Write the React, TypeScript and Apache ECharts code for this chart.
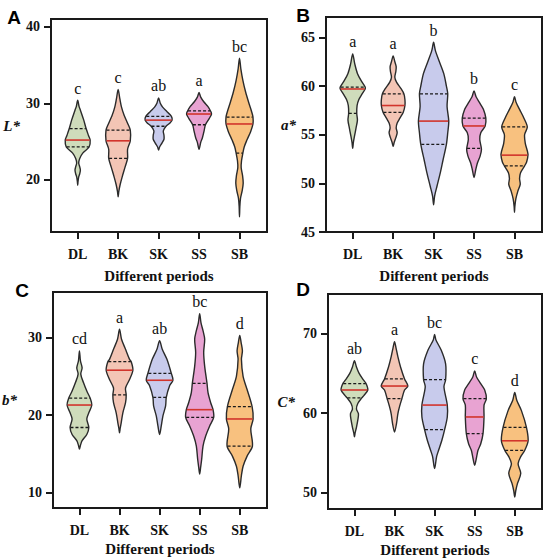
import React, { useEffect, useRef } from "react";
import * as echarts from "echarts";

// ---------- DATA ----------
const categories = ["DL", "BK", "SK", "SS", "SB"];
const violinColors = ["#cfdcbb", "#f3c5b5", "#c8cbec", "#e8a3d2", "#f8c17f"];

// Violin outlines: [value, half-width density] from top tip to bottom tip
const lProfiles: number[][][] = [
  [[30.4,0],[29.6,4],[29.1,8],[27.8,18],[26.7,25],[25.8,32],[25.2,37],[24.3,34],[23.5,15],[22.8,6],[22.2,3],[21.7,6],[21.3,8],[20.8,6],[20.4,3],[19.8,1],[19.3,0]],
  [[31.8,0],[30.6,5],[29.5,10],[28.4,18],[27.4,28],[26.5,36],[25.1,36],[24.0,28],[22.8,28],[21.6,20],[20.4,12],[19.4,6],[18.5,2],[17.8,0]],
  [[30.7,0],[30.0,5],[29.5,12],[28.9,25],[28.3,38],[27.8,40],[27.4,33],[27.0,22],[26.4,14],[25.8,16],[25.3,16],[24.8,10],[24.3,3],[23.9,0]],
  [[31.4,0],[30.8,5],[30.2,14],[29.6,26],[29.0,34],[28.6,37],[28.0,30],[27.2,19],[26.4,15],[25.5,10],[24.9,5],[24.0,0]],
  [[35.9,0],[34.5,4],[33.0,10],[31.5,18],[30.0,28],[28.9,36],[28.2,40],[27.3,40],[26.3,33],[25.2,22],[24.3,14],[23.5,10],[22.5,6],[21.6,5],[20.6,9],[19.6,11],[18.6,8],[17.6,3],[16.5,1],[15.2,0]],
];
const aProfiles: number[][][] = [
  [[63.3,0],[62.3,6],[61.3,14],[60.5,26],[59.9,37],[59.7,37],[59.2,28],[58.6,18],[58.0,13],[57.2,12],[56.5,14],[55.7,10],[54.8,5],[54.2,2],[53.6,0]],
  [[63.1,0],[62.5,5],[62.0,9],[61.5,8],[60.9,5],[60.4,10],[59.7,24],[59.2,32],[58.6,35],[58.0,35],[57.3,30],[56.7,20],[56.2,12],[55.7,9],[55.2,12],[54.7,8],[54.2,3],[53.8,0]],
  [[64.5,0],[63.7,5],[62.7,15],[61.3,30],[60.0,38],[59.2,42],[57.9,40],[56.4,45],[55.2,42],[54.0,38],[52.4,28],[51.1,20],[49.7,10],[48.7,3],[47.8,0]],
  [[59.5,0],[58.9,6],[58.2,18],[57.6,28],[56.7,35],[55.9,33],[55.2,20],[54.5,17],[53.5,22],[52.8,18],[52.1,10],[51.4,5],[50.6,0]],
  [[58.9,0],[58.3,5],[57.6,15],[56.7,28],[55.8,38],[55.0,30],[54.1,32],[53.0,40],[52.2,36],[51.8,30],[51.1,18],[50.5,15],[49.9,17],[49.2,10],[48.4,4],[47.6,1],[47.0,0]],
];
const bProfiles: number[][][] = [
  [[28.3,0],[27.0,3],[26.1,8],[25.3,4],[24.2,12],[23.1,22],[22.2,32],[21.3,37],[20.3,28],[19.5,22],[18.4,28],[17.5,22],[16.7,8],[16.1,3],[15.6,0]],
  [[31.1,0],[29.8,6],[28.5,18],[27.2,30],[26.9,35],[25.8,40],[24.6,30],[23.5,18],[22.6,20],[21.6,18],[20.3,10],[19.0,5],[18.3,2],[17.7,0]],
  [[29.6,0],[28.5,8],[27.2,22],[25.4,35],[24.5,40],[23.8,30],[22.3,20],[21.2,18],[19.9,10],[18.6,5],[17.5,0]],
  [[33.1,0],[31.9,4],[30.9,10],[29.8,15],[28.1,12],[26.3,15],[24.1,22],[22.9,25],[21.6,33],[20.7,40],[19.7,42],[18.6,30],[17.3,18],[16.0,10],[14.3,6],[13.3,3],[12.4,0]],
  [[30.3,0],[29.4,4],[28.3,8],[27.2,5],[25.0,10],[23.3,22],[21.1,37],[19.5,40],[18.2,33],[16.0,38],[14.7,22],[13.4,10],[12.2,5],[10.6,0]],
];
const cProfiles: number[][][] = [
  [[66.6,0],[65.8,6],[65.0,14],[64.1,28],[63.7,35],[62.9,40],[62.2,28],[61.9,22],[61.2,10],[60.5,6],[59.9,12],[59.1,10],[58.2,6],[57.5,2],[57.0,0]],
  [[69.0,0],[68.3,4],[67.1,10],[65.8,18],[64.3,30],[63.4,40],[62.9,30],[61.8,22],[60.8,15],[59.9,10],[58.7,6],[57.6,0]],
  [[69.9,0],[69.2,4],[67.9,20],[66.2,33],[64.2,33],[63.3,28],[61.0,38],[59.5,38],[57.9,30],[56.6,22],[55.3,12],[54.5,6],[53.0,0]],
  [[65.3,0],[64.5,6],[63.7,18],[62.9,30],[61.8,35],[61.0,28],[59.5,28],[57.4,25],[56.1,18],[55.3,10],[54.5,6],[53.4,0]],
  [[62.6,0],[61.6,6],[60.3,20],[58.2,35],[56.5,40],[55.3,30],[54.5,18],[53.6,10],[52.4,18],[51.1,8],[50.2,3],[49.4,0]],
];

// Quartiles [Q1, median, Q3]
const lQuartiles = [[24.3,25.2,26.7],[22.8,25.1,26.5],[27.0,27.8,28.3],[27.2,28.6,29.0],[23.5,27.3,28.2]];
const aQuartiles = [[57.2,59.7,59.9],[57.3,58.0,59.2],[54.0,56.4,59.2],[53.6,55.9,56.7],[51.8,52.9,55.8]];
const bQuartiles = [[18.4,21.3,22.2],[22.6,25.8,26.9],[22.3,24.5,25.4],[19.7,20.7,24.1],[16.0,19.5,21.1]];
const cQuartiles = [[61.9,62.9,63.7],[61.8,63.4,64.3],[57.9,61.0,64.2],[57.4,59.5,61.8],[55.3,56.5,58.2]];

// Significance letters
const lLetters = ["c", "c", "ab", "a", "bc"];
const aLetters = ["a", "a", "b", "b", "c"];
const bLetters = ["cd", "a", "ab", "bc", "d"];
const cLetters = ["ab", "a", "bc", "c", "d"];

// Axis ticks
const lTicks = [20, 30, 40];
const aTicks = [45, 50, 55, 60, 65];
const bTicks = [10, 20, 30];
const cTicks = [50, 60, 70];

const panelLetters = ["A", "B", "C", "D"];
const axisNames = ["L*", "a*", "b*", "C*"];
const xAxisTitle = "Different periods";

// ---------- LAYOUT ----------
const WS = 1 / 120; // density -> category units
const panels = [
  { profiles: lProfiles, quart: lQuartiles, letters: lLetters, ticks: lTicks, min: 13.2, max: 41, grid: { left: 51, top: 19, width: 216, height: 213 }, nameGap: 31, xNameGap: 36, letterPos: [14, 17] },
  { profiles: aProfiles, quart: aQuartiles, letters: aLetters, ticks: aTicks, min: 45, max: 67.1, grid: { left: 326, top: 17, width: 216, height: 215 }, nameGap: 29, xNameGap: 36, letterPos: [303, 15] },
  { profiles: bProfiles, quart: bQuartiles, letters: bLetters, ticks: bTicks, min: 8, max: 35.9, grid: { left: 50, top: 292, width: 217, height: 216 }, nameGap: 36, xNameGap: 33, letterPos: [22, 290] },
  { profiles: cProfiles, quart: cQuartiles, letters: cLetters, ticks: cTicks, min: 47.9, max: 75, grid: { left: 328, top: 294, width: 214, height: 215 }, nameGap: 33, xNameGap: 33, letterPos: [303, 289] },
];

function hwAt(profile: number[][], v: number): number {
  for (let k = 0; k < profile.length - 1; k++) {
    const [v1, w1] = profile[k];
    const [v2, w2] = profile[k + 1];
    if (v <= v1 && v >= v2) {
      const t = v1 === v2 ? 0 : (v1 - v) / (v1 - v2);
      return w1 + (w2 - w1) * t;
    }
  }
  return 0;
}

const SERIF = '"Liberation Serif", "Times New Roman", serif';

function buildOption() {
  const grid: any[] = [];
  const xAxis: any[] = [];
  const yAxis: any[] = [];
  const series: any[] = [];
  panels.forEach((p, pi) => {
    grid.push({ ...p.grid, show: true, borderColor: "#1a1a1a", borderWidth: 2, backgroundColor: "transparent" });
    xAxis.push({
      type: "value", gridIndex: pi, min: -0.66, max: 4.68,
      axisLine: { show: true, onZero: false, lineStyle: { color: "#1a1a1a", width: 2 } },
      splitLine: { show: false },
      axisTick: { show: true, inside: false, length: 7, lineStyle: { color: "#1a1a1a", width: 2 }, customValues: [0, 1, 2, 3, 4] },
      axisLabel: {
        customValues: [0, 1, 2, 3, 4], formatter: (v: number) => categories[Math.round(v)] ?? "",
        fontFamily: SERIF, fontWeight: "bold", fontSize: 14, color: "#111", margin: 15,
      },
      name: xAxisTitle, nameLocation: "middle", nameGap: p.xNameGap,
      nameTextStyle: { fontFamily: SERIF, fontWeight: "bold", fontSize: 15, color: "#111" },
    });
    yAxis.push({
      type: "value", gridIndex: pi, min: p.min, max: p.max,
      axisLine: { show: true, onZero: false, lineStyle: { color: "#1a1a1a", width: 2 } },
      splitLine: { show: false },
      axisTick: { show: true, inside: false, length: 7, lineStyle: { color: "#1a1a1a", width: 2 }, customValues: p.ticks },
      axisLabel: { customValues: p.ticks, fontFamily: SERIF, fontWeight: "bold", fontSize: 14, color: "#111", margin: 11 },
      name: axisNames[pi], nameLocation: "middle", nameRotate: 0, nameGap: p.nameGap,
      nameTextStyle: { fontFamily: SERIF, fontWeight: "bold", fontStyle: "italic", fontSize: 15, color: "#111", align: "right" },
    });
    series.push({
      type: "custom", coordinateSystem: "cartesian2d", xAxisIndex: pi, yAxisIndex: pi,
      data: categories.map((_, i) => [i, p.quart[i][1]]),
      encode: { x: 0, y: 1 },
      clip: false,
      renderItem: (params: any, api: any) => {
        const i = params.dataIndex;
        const prof = p.profiles[i];
        const right = prof.map(([v, w]) => api.coord([i + w * WS, v]));
        const left = prof.slice(1, -1).reverse().map(([v, w]) => api.coord([i - w * WS, v]));
        const children: any[] = [
          {
            type: "polygon",
            shape: { points: right.concat(left), smooth: 0.3 },
            style: { fill: violinColors[i], stroke: "#2b2b2b", lineWidth: 1.4 },
          },
        ];
        const q = p.quart[i];
        [q[0], q[2], q[1]].forEach((qv, k) => {
          const w = hwAt(prof, qv) * WS * 0.96;
          const a = api.coord([i - w, qv]);
          const b = api.coord([i + w, qv]);
          const isMed = k === 2;
          children.push({
            type: "line",
            shape: { x1: a[0], y1: a[1], x2: b[0], y2: b[1] },
            style: { stroke: isMed ? "#d2342c" : "#1a1a1a", lineWidth: isMed ? 1.6 : 1.3, lineDash: isMed ? null : [3, 2] },
          });
        });
        const top = api.coord([i, prof[0][0]]);
        children.push({
          type: "text", x: top[0], y: top[1] - 4,
          style: { text: p.letters[i], fill: "#111", fontSize: 16, fontFamily: SERIF, align: "center", verticalAlign: "bottom" },
        });
        return { type: "group", children };
      },
    });
  });
  const graphic = panels.map((p, pi) => ({
    type: "text", x: p.letterPos[0], y: p.letterPos[1],
    style: { text: panelLetters[pi], fill: "#000", fontSize: 19, fontWeight: "bold", fontFamily: '"Liberation Sans", Arial, sans-serif', align: "center", verticalAlign: "middle" },
  }));
  return { animation: false, backgroundColor: "#fff", grid, xAxis, yAxis, series, graphic };
}

export default function App() {
  const ref = useRef<HTMLDivElement>(null);
  useEffect(() => {
    document.body.style.margin = "0";
    if (!ref.current) return;
    const chart = echarts.init(ref.current, undefined, { renderer: "svg" });
    chart.setOption(buildOption() as any);
    return () => chart.dispose();
  }, []);
  return <div ref={ref} style={{ width: 550, height: 560 }} />;
}
